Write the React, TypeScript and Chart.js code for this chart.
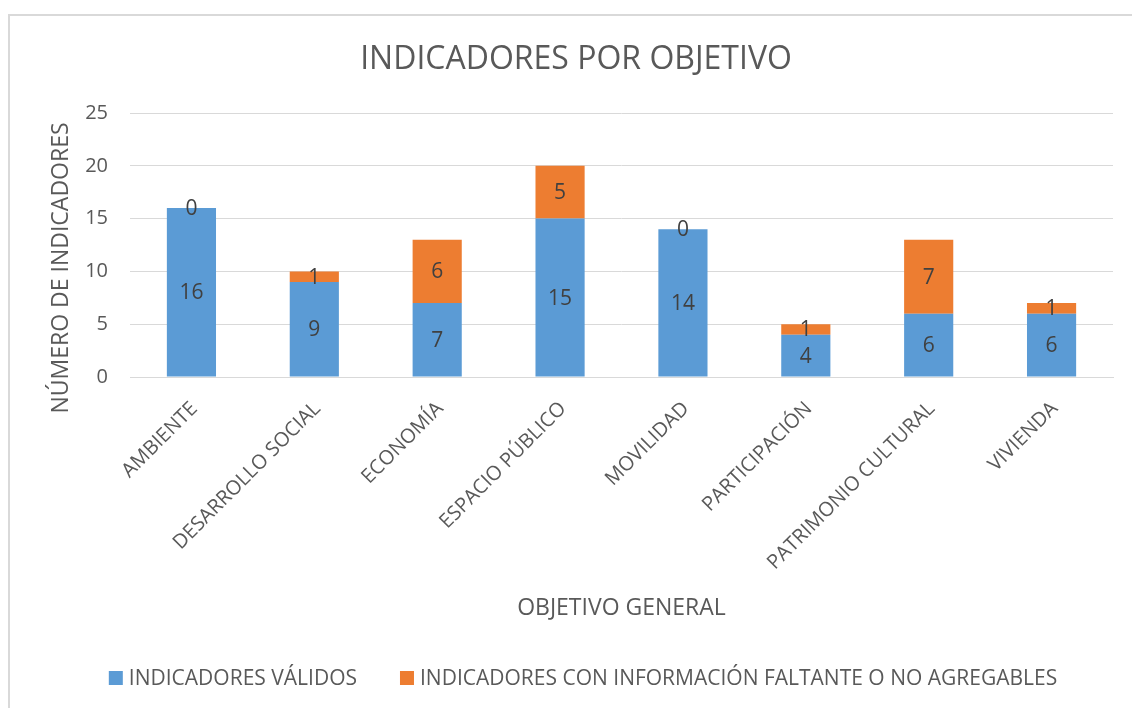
import React, { useEffect, useRef } from 'react';
import { Chart, registerables } from 'chart.js';

Chart.register(...registerables);

const categories = [
  'AMBIENTE',
  'DESARROLLO SOCIAL',
  'ECONOMÍA',
  'ESPACIO PÚBLICO',
  'MOVILIDAD',
  'PARTICIPACIÓN',
  'PATRIMONIO CULTURAL',
  'VIVIENDA',
];
const validos = [16, 9, 7, 15, 14, 4, 6, 6];
const faltantes = [0, 1, 6, 5, 0, 1, 7, 1];
const seriesNames = [
  'INDICADORES VÁLIDOS',
  'INDICADORES CON INFORMACIÓN FALTANTE O NO AGREGABLES',
];
const seriesColors = ['#5B9BD5', '#ED7D31'];
const yTickValues = [0, 5, 10, 15, 20, 25];
const chartTitle = 'INDICADORES POR OBJETIVO';
const xAxisTitle = 'OBJETIVO GENERAL';
const yAxisTitle = 'NÚMERO DE INDICADORES';

const FONT = '"Open Sans", "DejaVu Sans", sans-serif';
const TEXT = '#595959';

const textPlugin = {
  id: 'excelText',
  afterDatasetsDraw(chart: any) {
    const ctx = chart.ctx;
    ctx.save();
    ctx.font = `21px ${FONT}`;
    ctx.fillStyle = '#404040';
    ctx.textAlign = 'center';
    ctx.textBaseline = 'middle';
    chart.data.datasets.forEach((ds: any, di: number) => {
      const meta = chart.getDatasetMeta(di);
      meta.data.forEach((el: any, i: number) => {
        const p = el.getProps(['x', 'y', 'base'], true);
        ctx.fillText(String(ds.data[i]), p.x, (p.y + p.base) / 2 + 1);
      });
    });
    ctx.restore();
  },
  afterDraw(chart: any) {
    const ctx = chart.ctx;
    const area = chart.chartArea;
    ctx.save();
    ctx.fillStyle = TEXT;
    ctx.textBaseline = 'alphabetic';

    // Title
    ctx.font = `32px ${FONT}`;
    ctx.textAlign = 'center';
    ctx.fillText(chartTitle, 576, 69);

    // X axis title
    ctx.font = `23px ${FONT}`;
    ctx.fillText(xAxisTitle, (area.left + area.right) / 2, 615);

    // Y axis title
    ctx.save();
    ctx.translate(68, 268);
    ctx.rotate(-Math.PI / 2);
    ctx.fillText(yAxisTitle, 0, 0);
    ctx.restore();

    // Legend
    ctx.font = `21px ${FONT}`;
    ctx.textAlign = 'left';
    const box = 14;
    const gapBoxText = 6;
    const gapItems = 43;
    const widths = seriesNames.map((s) => ctx.measureText(s).width);
    const total =
      widths.reduce((a, w) => a + w + box + gapBoxText, 0) + gapItems * (seriesNames.length - 1);
    let x = 583 - total / 2;
    const yMid = 678;
    seriesNames.forEach((name, i) => {
      ctx.fillStyle = seriesColors[i];
      ctx.fillRect(x, yMid - box / 2, box, box);
      x += box + gapBoxText;
      ctx.fillStyle = TEXT;
      ctx.fillText(name, x, yMid + 7);
      x += widths[i] + gapItems;
    });
    ctx.restore();
  },
};

export default function App() {
  const canvasRef = useRef<HTMLCanvasElement | null>(null);

  useEffect(() => {
    const canvas = canvasRef.current;
    if (!canvas) return;
    const chart = new Chart(canvas, {
      type: 'bar',
      data: {
        labels: categories,
        datasets: [
          {
            label: seriesNames[0],
            data: validos,
            backgroundColor: seriesColors[0],
            borderWidth: 0,
            categoryPercentage: 1,
            barPercentage: 0.4,
          },
          {
            label: seriesNames[1],
            data: faltantes,
            backgroundColor: seriesColors[1],
            borderWidth: 0,
            categoryPercentage: 1,
            barPercentage: 0.4,
          },
        ],
      },
      options: {
        responsive: false,
        animation: false,
        events: [],
        layout: { padding: { left: 20, top: 113, right: 19, bottom: 131 } },
        plugins: {
          legend: { display: false },
          title: { display: false },
          tooltip: { enabled: false },
        },
        scales: {
          x: {
            stacked: true,
            grid: { display: false },
            border: { display: true, color: '#D9D9D9', width: 1 },
            ticks: {
              autoSkip: false,
              minRotation: 45,
              maxRotation: 45,
              padding: 12,
              labelOffset: 3,
              color: TEXT,
              font: { family: FONT, size: 20 },
            },
            afterFit(scale: any) {
              scale.height = 200;
            },
          },
          y: {
            stacked: true,
            min: 0,
            max: 25,
            afterBuildTicks(scale: any) {
              scale.ticks = yTickValues.map((v) => ({ value: v }));
            },
            grid: { color: '#D9D9D9', lineWidth: 1, drawTicks: false },
            border: { display: false },
            ticks: {
              padding: 22,
              color: TEXT,
              font: { family: FONT, size: 20 },
            },
            afterFit(scale: any) {
              scale.width = 110;
            },
          },
        },
      },
      plugins: [textPlugin],
    });
    return () => chart.destroy();
  }, []);

  return (
    <div
      style={{
        position: 'fixed',
        left: 0,
        top: 0,
        width: 1132,
        height: 708,
        overflow: 'hidden',
        background: '#FFFFFF',
      }}
    >
      <div
        style={{
          position: 'absolute',
          left: 8,
          top: 14,
          width: 1200,
          height: 800,
          border: '2px solid #D9D9D9',
          boxSizing: 'border-box',
        }}
      />
      <canvas
        ref={canvasRef}
        width={1132}
        height={708}
        style={{ position: 'absolute', left: 0, top: 0, width: 1132, height: 708 }}
      />
    </div>
  );
}
